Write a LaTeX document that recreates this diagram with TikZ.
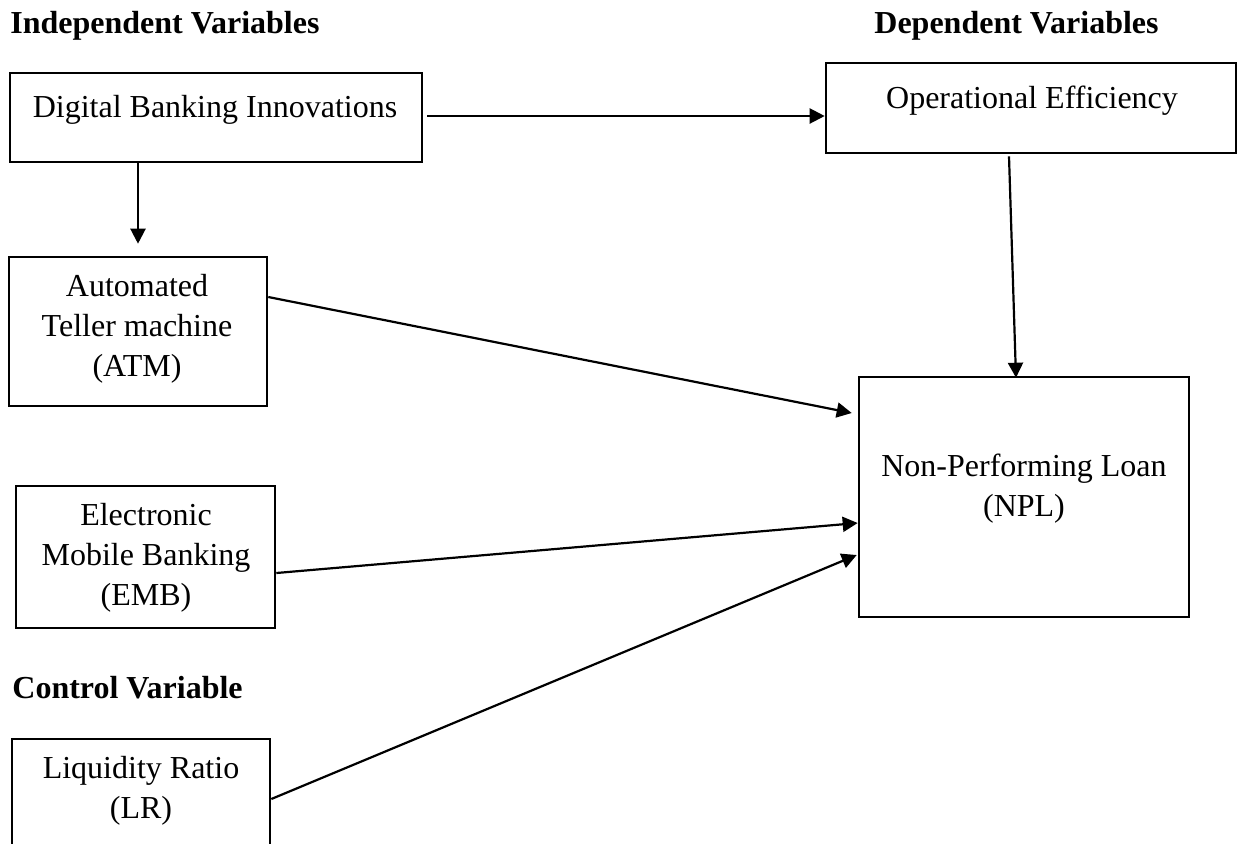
\documentclass[tikz,border=0pt]{standalone}
\usepackage{fontspec}
\setmainfont{Liberation Serif}
\usetikzlibrary{arrows.meta,calc}
\begin{document}
\begin{tikzpicture}[x=0.5pt,y=-0.5pt,
  box/.style={draw,line width=1.3pt,inner sep=0pt},
  txt/.style={font=\fontsize{16}{20}\selectfont,inner sep=0pt,align=center,anchor=base},
  head/.style={font=\fontsize{16}{20}\selectfont\bfseries,inner sep=0pt,anchor=base west},
  arr/.style={line width=1.1pt,-{Triangle[length=7.5pt,width=7.5pt]}}]
\clip (0,0) rectangle (1237,843);
% boxes
\node[box,minimum width=206pt,minimum height=44.5pt] (dbi) at (216,117.5) {};
\node[box,minimum width=205pt,minimum height=45pt] (oe) at (1031,108) {};
\node[box,minimum width=129pt,minimum height=74.5pt] (atm) at (138,331.5) {};
\node[box,minimum width=129.5pt,minimum height=71pt] (emb) at (145.5,557) {};
\node[box,minimum width=129pt,minimum height=65pt] (lr) at (141,804) {};
\node[box,minimum width=165pt,minimum height=120pt] (npl) at (1024,497) {};
% texts (anchor base = last line baseline)
\node[txt] (dbit) at (215,117.7) {Digital Banking Innovations};
\node[txt] (oet) at (1032,108) {Operational Efficiency};
\node[txt] (atmt) at (137,376) {Automated\\Teller machine\\(ATM)};
\node[txt] (embt) at (146,605) {Electronic\\Mobile Banking\\(EMB)};
\node[txt] (lrt) at (141,818) {Liquidity Ratio\\(LR)};
\node[txt] (nplt) at (1024,516) {Non-Performing Loan\\(NPL)};
% headings
\node[head] (h1) at (10,33) {Independent Variables};
\node[head] (h2) at (874,33) {Dependent Variables};
\node[head] (h3) at (12,698) {Control Variable};
% arrows
\draw[arr] ($(dbi.east)+(4,-1.5)$) -- ($(oe.west)+(0,8)$);
\draw[arr,shorten >=6pt] (dbi.south -| atm.north) -- (atm.north);
\draw[arr] ($(oe.south)+(-22,2)$) -- ($(npl.north)+(-8,2)$);
\draw[arr] ($(atm.east)+(0,-34.5)$) -- ($(npl.west)+(-6,-84)$);
\draw[arr] ($(emb.east)+(0,16)$) -- ($(npl.west)+(0,26)$);
\draw[arr] ($(lr.east)+(0,-5)$) -- ($(npl.west)+(-1,58)$);
\end{tikzpicture}
\end{document}
